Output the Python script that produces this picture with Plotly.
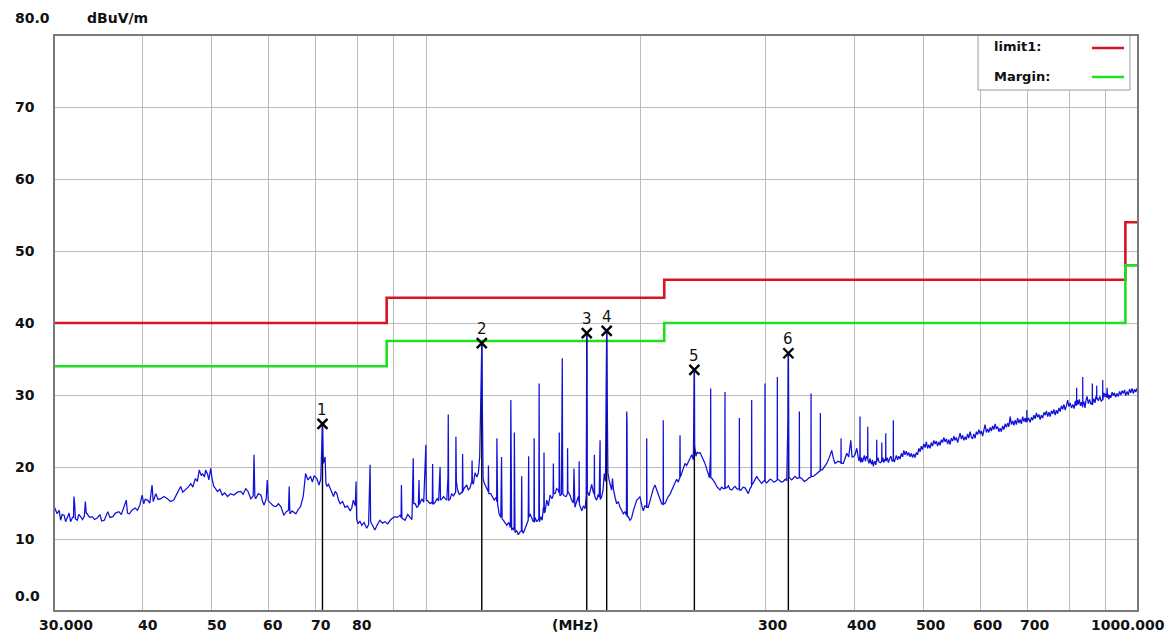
import math
import plotly.graph_objects as go

# ---- limit lines (MHz / dBuV/m) ----
limit_freq = [30, 88, 88, 216, 216, 960, 960, 1000]
limit_level = [40, 40, 43.5, 43.5, 46, 46, 54, 54]
margin_level = [34, 34, 37.5, 37.5, 40, 40, 48, 48]

# ---- peak markers ----
marker_no = ["1", "2", "3", "4", "5", "6"]
marker_freq = [71.5, 119.7, 168.1, 179.3, 238.1, 322.7]
marker_level = [26.0, 37.2, 38.6, 38.9, 33.5, 35.8]

# ---- scan trace as (MHz, dBuV/m) pairs, 30 - 72.5 MHz ----
scan_a = [(30.0, 14.6), (30.3, 13.5), (30.5, 14.0), (30.65, 12.6), (30.8, 13.4), (31.0, 13.3), (31.15, 12.4),
          (31.3, 12.9), (31.5, 13.6), (31.65, 12.4), (31.85, 13.0), (31.95, 13.0), (32.0, 15.9), (32.08, 14.8),
          (32.15, 12.8), (32.35, 12.6), (32.5, 13.4), (32.7, 13.1), (32.9, 12.7), (33.1, 13.2), (33.2, 15.2),
          (33.3, 13.6), (33.4, 13.5), (33.65, 13.0), (33.95, 13.1), (34.2, 12.7), (34.5, 12.9), (34.8, 13.4),
          (35.0, 12.5), (35.3, 12.6), (35.5, 13.2), (35.7, 13.8), (35.95, 13.0), (36.3, 13.1), (36.6, 13.6),
          (37.0, 13.8), (37.3, 13.4), (37.7, 14.7), (37.9, 15.4), (38.05, 13.6), (38.3, 13.5), (38.6, 14.0),
          (39.0, 14.3), (39.3, 14.0), (39.6, 14.7), (39.9, 16.1), (40.1, 14.9), (40.3, 15.5), (40.6, 15.4),
          (40.9, 15.0), (41.2, 17.5), (41.35, 15.2), (41.7, 16.3), (42.0, 15.5), (42.4, 15.6), (42.8, 15.9),
          (43.3, 15.6), (43.7, 15.2), (44.2, 15.4), (44.6, 16.2), (45.2, 17.3), (45.5, 16.5), (45.9, 16.8),
          (46.3, 17.2), (46.7, 17.7), (47.0, 17.2), (47.4, 18.4), (47.7, 18.0), (48.0, 19.6), (48.3, 18.8),
          (48.5, 19.1), (48.8, 18.6), (49.0, 19.6), (49.3, 19.0), (49.5, 18.2), (49.8, 19.8), (50.0, 18.5),
          (50.3, 17.3), (50.6, 17.0), (50.9, 16.6), (51.3, 16.9), (51.7, 16.1), (52.1, 16.4), (52.6, 15.9),
          (53.1, 16.3), (53.7, 16.1), (54.3, 16.5), (54.9, 16.6), (55.3, 16.2), (55.8, 17.0), (56.2, 16.6),
          (56.7, 15.6), (57.15, 16.0), (57.3, 21.7), (57.45, 15.9), (57.6, 15.6), (58.1, 16.3), (58.6, 16.1),
          (58.9, 15.2), (59.2, 14.7), (59.6, 15.6), (59.8, 18.2), (60.0, 15.3), (60.5, 14.9), (61.0, 14.6),
          (61.5, 14.5), (62.0, 14.9), (62.5, 14.5), (62.8, 14.0), (63.1, 13.3), (63.6, 13.8), (64.05, 14.0),
          (64.2, 17.3), (64.35, 13.5), (64.8, 13.9), (65.6, 13.5), (66.1, 14.1), (66.6, 14.5), (67.2, 16.0),
          (67.7, 19.1), (68.2, 18.2), (68.8, 18.7), (69.2, 17.9), (69.6, 18.8), (70.2, 18.4), (70.7, 17.5),
          (71.1, 18.3), (71.35, 23.5), (71.5, 26.0), (71.7, 20.5), (72.1, 21.4), (72.3, 17.8), (72.5, 17.3)]

# ---- 72.9 - 168.4 MHz ----
scan_b = [(72.9, 17.6), (73.3, 17.1), (73.7, 16.4), (74.1, 15.9), (74.5, 16.6), (74.9, 16.3), (75.3, 15.4),
          (75.7, 14.9), (76.3, 15.2), (76.9, 14.4), (77.5, 14.6), (78.2, 13.9), (78.6, 14.3), (79.0, 15.4),
          (79.5, 14.6), (79.7, 18.0), (79.85, 12.8), (80.2, 12.1), (80.7, 12.5), (81.2, 11.9), (81.8, 12.3),
          (82.5, 11.5), (83.0, 12.0), (83.4, 20.3), (83.55, 12.4), (84.0, 11.9), (84.7, 11.25), (85.4, 12.0),
          (86.1, 12.6), (86.8, 12.2), (87.5, 12.4), (88.3, 12.1), (89.0, 12.6), (89.7, 12.9), (90.4, 13.1),
          (91.1, 13.0), (91.9, 13.3), (92.2, 13.0), (92.3, 17.5), (92.45, 12.9), (92.7, 12.8), (93.4, 12.6),
          (94.2, 13.4), (94.8, 13.1), (95.5, 12.7), (95.9, 21.2), (96.05, 14.9), (96.5, 14.9), (97.0, 14.4),
          (97.5, 14.6), (97.7, 18.2), (97.85, 14.8), (98.1, 15.0), (98.6, 15.6), (99.2, 15.1), (99.9, 23.1),
          (100.05, 15.4), (100.5, 15.3), (101.2, 14.9), (101.8, 15.1), (102.0, 14.9), (102.1, 20.4),
          (102.25, 14.8), (102.9, 15.1), (103.6, 15.6), (104.1, 15.3), (104.6, 20.0), (104.75, 15.4),
          (105.3, 15.6), (105.8, 15.9), (106.3, 15.6), (106.9, 15.4), (107.3, 18.6), (107.4, 27.3),
          (107.55, 15.4), (108.0, 15.5), (108.6, 16.3), (109.2, 16.0), (110.0, 16.5), (110.1, 24.2),
          (110.25, 18.0), (110.7, 16.8), (111.3, 16.2), (112.2, 16.5), (112.4, 16.4), (112.5, 21.8),
          (112.65, 16.6), (113.0, 17.0), (114.0, 17.5), (114.6, 16.8), (115.2, 17.1), (115.9, 18.0),
          (116.0, 20.9), (116.15, 17.8), (116.5, 17.6), (117.1, 19.2), (117.8, 18.6), (118.4, 19.2),
          (118.9, 21.5), (119.2, 32.5), (119.5, 33.0), (119.7, 37.2), (119.9, 31.0), (120.2, 18.5),
          (120.6, 17.8), (121.3, 17.2), (121.9, 16.8), (122.2, 16.6), (122.3, 20.2), (122.45, 16.3),
          (123.2, 16.3), (123.9, 15.9), (124.6, 15.4), (125.4, 15.8), (125.6, 15.2), (125.7, 24.0),
          (125.85, 14.9), (126.0, 14.8), (126.6, 13.5), (127.3, 13.0), (127.6, 21.4), (127.85, 12.8),
          (128.4, 12.6), (129.1, 12.2), (129.8, 11.9), (130.6, 12.3), (131.3, 11.6), (131.5, 29.3),
          (131.7, 19.0), (131.85, 11.25), (132.5, 11.5), (132.9, 11.2), (133.0, 24.8), (133.15, 11.0),
          (133.3, 10.9), (134.0, 11.2), (134.7, 10.6), (135.5, 11.0), (136.05, 11.1), (136.2, 18.7),
          (136.35, 11.25), (136.9, 10.8), (137.6, 11.3), (138.4, 11.9), (139.1, 12.6), (139.3, 21.5),
          (139.45, 13.0), (139.9, 13.5), (140.6, 12.9), (141.4, 12.4), (141.7, 12.6), (141.8, 24.0),
          (141.95, 12.3), (142.2, 13.0), (143.0, 12.4), (143.95, 12.8), (144.1, 31.6), (144.25, 12.4),
          (144.9, 13.1), (145.5, 12.6), (146.1, 14.4), (146.3, 14.0), (146.4, 22.0), (146.55, 13.6),
          (146.9, 13.8), (147.7, 15.4), (148.5, 14.6), (149.3, 16.1), (150.2, 15.6), (150.75, 16.0),
          (150.9, 20.5), (151.05, 16.3), (151.7, 16.3), (152.5, 17.0), (153.3, 16.8), (153.7, 16.4),
          (153.8, 24.8), (153.95, 16.2), (154.1, 16.0), (154.9, 16.2), (155.15, 23.7), (155.3, 35.1),
          (155.45, 22.0), (155.6, 16.3), (156.2, 16.0), (157.3, 15.9), (157.9, 16.3), (158.0, 22.6),
          (158.15, 16.4), (158.4, 16.5), (159.2, 16.1), (160.1, 15.4), (161.0, 15.0), (161.3, 19.8),
          (161.45, 14.8), (161.8, 14.4), (162.7, 15.2), (163.6, 15.9), (163.9, 15.2), (164.0, 20.8),
          (164.15, 14.8), (164.5, 14.6), (165.4, 13.9), (166.3, 14.6), (167.2, 14.2), (167.8, 16.0),
          (168.1, 38.6), (168.4, 16.3)]

# ---- 168.8 - 402.6 MHz ----
scan_c = [(168.8, 16.4), (169.4, 16.0), (169.9, 16.8), (170.8, 17.6), (171.6, 16.6), (172.2, 16.2),
          (172.3, 21.7), (172.45, 16.0), (173.0, 15.6), (173.6, 15.4), (174.4, 16.2), (175.0, 15.8),
          (175.5, 23.7), (175.65, 15.5), (176.4, 15.9), (177.2, 16.8), (177.9, 19.1), (178.6, 18.0),
          (179.0, 31.2), (179.3, 38.9), (179.6, 30.0), (180.0, 19.2), (180.7, 18.2), (181.5, 17.5),
          (182.2, 16.8), (182.7, 18.4), (183.2, 17.0), (184.2, 15.8), (185.2, 14.9), (186.2, 15.2),
          (187.2, 14.4), (188.2, 14.0), (189.2, 13.5), (190.2, 13.8), (191.1, 13.3), (191.3, 27.7),
          (191.5, 26.3), (191.7, 13.1), (192.3, 13.1), (193.3, 12.6), (194.3, 12.9), (195.4, 13.9),
          (196.5, 14.6), (197.6, 15.4), (198.6, 15.6), (199.7, 15.9), (200.7, 14.8), (201.8, 13.9),
          (202.9, 14.6), (204.0, 14.4), (204.1, 24.0), (204.25, 14.4), (205.1, 14.4), (206.2, 15.3),
          (207.4, 16.3), (208.5, 17.0), (209.6, 17.5), (210.7, 16.9), (211.9, 16.3), (213.0, 15.6),
          (214.2, 14.9), (215.2, 14.8), (215.3, 26.5), (215.45, 14.9), (216.5, 14.9), (217.6, 15.4),
          (218.8, 15.9), (220.0, 16.2), (221.3, 16.8), (222.4, 17.4), (223.6, 17.8), (224.8, 18.3),
          (226.0, 17.9), (227.1, 18.5), (227.3, 24.4), (227.5, 18.6), (228.5, 19.1), (229.7, 19.8),
          (231.0, 20.5), (232.2, 20.2), (233.5, 20.7), (234.8, 21.2), (236.1, 21.7), (237.3, 21.0),
          (237.9, 27.2), (238.1, 33.5), (238.3, 23.0), (239.3, 21.5), (240.3, 22.1), (241.2, 21.9),
          (242.5, 22.0), (243.8, 21.4), (245.1, 21.0), (246.4, 20.5), (247.8, 19.6), (249.1, 18.7),
          (250.0, 18.5), (250.9, 22.0), (251.0, 30.9), (251.15, 18.5), (252.1, 18.4), (253.1, 18.2),
          (254.5, 17.8), (255.9, 17.3), (257.3, 17.0), (258.7, 16.8), (260.0, 17.2), (261.5, 17.0),
          (262.75, 17.0), (262.9, 30.4), (263.05, 17.1), (264.4, 17.1), (265.8, 17.4), (267.2, 16.9),
          (268.7, 16.8), (270.1, 17.1), (271.6, 17.3), (273.5, 16.9), (275.25, 17.0), (275.4, 26.8),
          (275.55, 16.8), (276.9, 16.8), (278.7, 17.2), (280.5, 17.1), (282.0, 16.7), (283.5, 16.3),
          (285.0, 17.0), (286.45, 17.3), (286.6, 29.3), (286.75, 17.5), (288.1, 17.8), (289.7, 18.3),
          (291.3, 18.7), (292.9, 18.3), (294.4, 18.0), (296.0, 17.7), (297.6, 18.0), (299.05, 18.2),
          (299.2, 31.6), (299.35, 18.0), (300.9, 17.8), (302.5, 18.1), (304.1, 18.3), (305.8, 18.2),
          (307.6, 17.9), (309.4, 18.0), (311.25, 18.2), (311.4, 32.5), (311.55, 18.3), (313.1, 18.2),
          (315.3, 17.9), (317.5, 18.0), (319.5, 18.3), (321.0, 18.1), (322.3, 26.8), (322.7, 35.8),
          (323.0, 26.8), (323.3, 18.6), (326.2, 18.2), (328.0, 18.5), (329.7, 18.7), (332.0, 18.4),
          (334.25, 18.5), (334.4, 27.7), (334.55, 18.6), (337.0, 18.4), (339.8, 18.0), (342.5, 18.2),
          (345.0, 18.5), (347.15, 18.6), (347.3, 30.2), (347.45, 18.7), (349.9, 18.7), (351.8, 18.9),
          (353.7, 19.1), (355.8, 19.4), (357.75, 19.5), (357.9, 27.5), (358.05, 19.6), (360.2, 19.6),
          (362.8, 20.0), (365.3, 20.5), (368.3, 21.3), (371.3, 22.3), (373.3, 21.2), (375.3, 20.5),
          (378.9, 20.8), (382.55, 20.6), (382.7, 24.0), (382.85, 20.5), (385.5, 20.5), (387.6, 21.2),
          (389.8, 21.9), (392.3, 21.4), (394.9, 23.7), (396.5, 21.4), (398.2, 21.4), (400.4, 21.7),
          (402.6, 22.6)]

# ---- 404.5 - 1000 MHz ----
scan_d = [(404.5, 21.4), (405.6, 20.8), (406.7, 21.6), (406.9, 27.0), (407.1, 21.2), (408.0, 20.6),
          (409.0, 21.3), (410.2, 20.7), (411.3, 21.0), (412.6, 21.6), (414.0, 20.8), (415.5, 21.5),
          (417.0, 21.2), (417.2, 25.6), (417.4, 21.0), (418.8, 20.5), (420.3, 21.2), (421.4, 20.6),
          (422.5, 20.4), (423.6, 21.0), (424.8, 20.1), (425.9, 20.6), (427.0, 20.8), (428.2, 20.3),
          (429.3, 21.0), (429.5, 23.8), (429.7, 20.8), (431.2, 21.3), (432.7, 20.7), (434.5, 20.6),
          (436.4, 20.8), (436.6, 23.4), (436.8, 20.7), (438.1, 21.3), (439.4, 20.6), (440.7, 21.1),
          (442.0, 20.9), (442.2, 24.7), (442.4, 20.8), (444.2, 21.3), (446.0, 20.6), (447.8, 21.2),
          (449.6, 21.5), (451.3, 20.8), (453.0, 21.0), (453.2, 26.5), (453.4, 21.0), (454.6, 20.7),
          (455.7, 21.0), (457.6, 21.6), (459.5, 21.0), (461.3, 21.5), (463.2, 21.1), (465.1, 21.9),
          (467.0, 21.4), (468.8, 22.3), (470.7, 21.7), (472.6, 22.2), (474.5, 21.6), (476.4, 22.0),
          (478.4, 21.4), (480.3, 21.9), (482.3, 21.3), (484.2, 21.8), (486.2, 21.3), (488.1, 22.0),
          (490.1, 21.7), (492.1, 22.6), (494.1, 22.1), (496.1, 22.9), (498.1, 22.4), (500.1, 23.2),
          (502.2, 22.7), (504.2, 23.5), (506.3, 22.6), (508.3, 23.1), (510.4, 22.6), (512.4, 23.4),
          (514.5, 22.9), (516.6, 23.7), (518.7, 23.2), (520.8, 23.6), (522.9, 22.9), (525.0, 23.5),
          (527.2, 23.0), (529.3, 23.8), (531.5, 23.4), (533.6, 24.1), (535.8, 23.5), (537.9, 23.9),
          (540.1, 23.2), (542.3, 23.8), (544.5, 23.1), (546.7, 24.0), (549.0, 23.6), (551.2, 24.3),
          (553.4, 23.7), (555.6, 24.1), (557.9, 23.4), (560.1, 24.2), (562.4, 24.7), (564.7, 23.9),
          (567.0, 24.4), (569.3, 23.7), (571.6, 24.2), (573.9, 23.8), (576.2, 24.6), (578.5, 24.0),
          (580.9, 24.9), (583.2, 24.2), (585.6, 23.9), (588.0, 24.6), (590.4, 24.0), (592.8, 24.9),
          (595.2, 24.5), (597.6, 25.2), (600.1, 24.6), (602.5, 25.0), (604.9, 24.3), (607.3, 25.1),
          (609.8, 25.9), (612.3, 24.8), (614.8, 25.3), (617.3, 24.8), (619.8, 25.5), (622.3, 25.0),
          (624.8, 25.7), (627.3, 25.2), (629.9, 26.0), (632.4, 25.3), (635.0, 25.6), (637.6, 24.9),
          (640.2, 25.4), (642.8, 24.9), (645.4, 25.7), (648.0, 25.2), (650.6, 26.0), (653.3, 25.5),
          (656.0, 26.1), (658.6, 25.6), (661.3, 27.0), (664.0, 25.9), (666.7, 26.4), (669.4, 25.8),
          (672.1, 26.5), (674.8, 25.9), (677.5, 26.8), (680.2, 26.1), (683.0, 26.6), (685.8, 26.0),
          (688.6, 27.0), (691.4, 26.3), (694.2, 26.8), (696.0, 26.2), (697.8, 26.9), (698.0, 27.9),
          (698.2, 26.3), (701.8, 26.8), (705.5, 26.2), (708.4, 26.9), (711.3, 26.5), (714.1, 27.2),
          (717.0, 26.7), (719.9, 27.5), (722.8, 26.9), (725.7, 27.3), (728.7, 26.6), (731.6, 27.2),
          (734.6, 26.8), (737.6, 27.6), (740.6, 27.2), (743.6, 27.8), (746.6, 27.0), (749.6, 27.6),
          (752.7, 27.0), (755.7, 27.8), (758.8, 27.4), (761.8, 28.0), (764.9, 27.2), (768.0, 27.9),
          (771.1, 27.4), (774.2, 28.2), (777.4, 27.7), (780.5, 28.5), (783.7, 28.0), (786.9, 28.7),
          (790.1, 27.9), (793.3, 28.5), (796.5, 29.3), (799.7, 28.4), (803.0, 28.9), (806.5, 28.2),
          (810.0, 28.7), (813.3, 28.1), (816.6, 29.2), (818.5, 28.5), (819.8, 28.9), (820.0, 31.0),
          (820.2, 28.6), (822.4, 29.3), (824.6, 28.7), (827.3, 29.4), (830.0, 28.5), (833.0, 29.0),
          (836.1, 28.3), (836.3, 32.5), (836.5, 28.6), (839.5, 29.1), (842.5, 28.2), (845.2, 29.3),
          (848.0, 29.8), (851.5, 28.8), (855.0, 29.4), (858.7, 28.7), (862.5, 29.0), (862.7, 31.6),
          (862.9, 28.6), (866.6, 29.5), (870.3, 28.9), (872.5, 29.8), (874.8, 29.4), (875.0, 31.3),
          (875.2, 29.7), (879.6, 29.2), (884.0, 29.8), (888.0, 29.1), (892.0, 29.4), (892.2, 32.1),
          (892.4, 29.3), (895.6, 30.3), (898.9, 29.7), (901.5, 30.2), (904.0, 29.7), (905.0, 31.0),
          (906.0, 29.6), (908.0, 30.1), (910.0, 29.4), (913.0, 30.0), (916.0, 29.6), (919.7, 30.4),
          (923.4, 29.9), (926.7, 30.3), (930.0, 29.7), (934.2, 30.2), (938.4, 29.8), (942.2, 30.5),
          (946.0, 30.0), (949.8, 30.6), (953.7, 30.2), (957.3, 30.7), (961.0, 29.9), (965.1, 30.5),
          (969.3, 30.0), (973.1, 30.8), (977.0, 30.3), (981.0, 30.9), (985.1, 30.2), (989.0, 30.8),
          (993.0, 30.4), (996.5, 30.9), (1000.0, 30.5)]

# ---- axis labels ----
xlabel_freq = [30, 40, 50, 60, 70, 80, 300, 400, 500, 600, 700, 1000]
xlabel_text = ["30.000", "40", "50", "60", "70", "80", "300", "400", "500", "600", "700", "1000.000"]
xgrid_freq = [40, 50, 60, 70, 80, 90, 100, 200, 300, 400, 500, 600, 700, 800, 900]
ylabel_level = [10, 20, 30, 40, 50, 60, 70]

scan = scan_a + scan_b + scan_c + scan_d
scan_freq = [p[0] for p in scan]
scan_level = [p[1] for p in scan]

LABEL_FONT = dict(family="DejaVu Sans", size=14, color="#111111")

fig = go.Figure()

# limit and margin step lines
fig.add_trace(go.Scatter(x=limit_freq, y=limit_level, mode="lines",
                         line=dict(color="#d81424", width=2.6), hoverinfo="skip"))
fig.add_trace(go.Scatter(x=limit_freq, y=margin_level, mode="lines",
                         line=dict(color="#1fe01f", width=2.6), hoverinfo="skip"))

# vertical marker lines from the floor to each peak
mx, my = [], []
for f, v in zip(marker_freq, marker_level):
    mx += [f, f, None]
    my += [0, v, None]
fig.add_trace(go.Scatter(x=mx, y=my, mode="lines", line=dict(color="#000000", width=1.4),
                         hoverinfo="skip"))

# measured spectrum
fig.add_trace(go.Scatter(x=scan_freq, y=scan_level, mode="lines",
                         line=dict(color="#1010d8", width=1.25), hoverinfo="skip"))

# peak markers
fig.add_trace(go.Scatter(x=marker_freq, y=marker_level, mode="markers",
                         marker=dict(symbol="x-thin-open", size=10, color="#000000",
                                     line=dict(color="#000000", width=2.4)),
                         hoverinfo="skip"))

annotations = []
for no, f, v in zip(marker_no, marker_freq, marker_level):
    annotations.append(dict(x=math.log10(f), y=v, xref="x", yref="y", text=no, showarrow=False,
                            yshift=14, font=dict(family="DejaVu Sans", size=15, color="#111111")))

# x tick labels sit just right of their grid lines
for i, (f, t) in enumerate(zip(xlabel_freq, xlabel_text)):
    if i == 0:
        shift = 12
    elif i == len(xlabel_freq) - 1:
        shift = -10
    elif f < 100:
        shift = 5
    else:
        shift = 7
    annotations.append(dict(x=math.log10(f), y=-0.024, xref="x", yref="paper", text="<b>%s</b>" % t,
                            showarrow=False, xshift=shift, yanchor="middle", font=LABEL_FONT))
annotations.append(dict(x=0.4815, y=-0.024, xref="paper", yref="paper", text="<b>(MHz)</b>",
                        showarrow=False, yanchor="middle", font=LABEL_FONT))

# y tick labels, left aligned at the page edge
for v in ylabel_level:
    annotations.append(dict(x=-0.0378, y=v, xref="paper", yref="y", text="<b>%d</b>" % v,
                            showarrow=False, xanchor="left", yanchor="middle", font=LABEL_FONT))
annotations.append(dict(x=-0.0378, y=0.026, xref="paper", yref="paper", text="<b>0.0</b>",
                        showarrow=False, xanchor="left", yanchor="middle", font=LABEL_FONT))
annotations.append(dict(x=-0.0378, y=1.0295, xref="paper", yref="paper", text="<b>80.0</b>",
                        showarrow=False, xanchor="left", yanchor="middle", font=LABEL_FONT))
annotations.append(dict(x=0.0286, y=1.0295, xref="paper", yref="paper", text="<b>dBuV/m</b>",
                        showarrow=False, xanchor="left", yanchor="middle", font=LABEL_FONT))

# legend box
LEGEND_FONT = dict(family="DejaVu Sans", size=13, color="#111111")
annotations.append(dict(x=0.8653, y=0.9792, xref="paper", yref="paper", text="<b>limit1:</b>",
                        showarrow=False, xanchor="left", yanchor="middle", font=LEGEND_FONT))
annotations.append(dict(x=0.8653, y=0.9271, xref="paper", yref="paper", text="<b>Margin:</b>",
                        showarrow=False, xanchor="left", yanchor="middle", font=LEGEND_FONT))

shapes = [
    dict(type="rect", xref="paper", yref="paper", x0=0.8524, x1=0.9926, y0=0.9045, y1=1.0,
         fillcolor="#ffffff", line=dict(color="#9a9a9a", width=1), layer="above"),
    dict(type="line", xref="paper", yref="paper", x0=0.9576, x1=0.9871, y0=0.9774, y1=0.9774,
         line=dict(color="#d81424", width=2.6), layer="above"),
    dict(type="line", xref="paper", yref="paper", x0=0.9576, x1=0.9871, y0=0.9271, y1=0.9271,
         line=dict(color="#1fe01f", width=2.6), layer="above"),
    dict(type="rect", xref="paper", yref="paper", x0=0, x1=1, y0=0, y1=1,
         line=dict(color="#7a7a7a", width=2), layer="above"),
]

fig.update_layout(
    width=1176, height=636,
    margin=dict(l=54, r=38, t=35, b=25),
    paper_bgcolor="#ffffff", plot_bgcolor="#ffffff",
    showlegend=False,
    annotations=annotations,
    shapes=shapes,
    xaxis=dict(type="log", range=[math.log10(30), math.log10(1000)], tickvals=xgrid_freq,
               showticklabels=False, ticks="", showgrid=True, gridcolor="#bcbcbc", gridwidth=1,
               zeroline=False, showline=False, fixedrange=True),
    yaxis=dict(range=[0, 80], tickvals=ylabel_level, showticklabels=False, ticks="",
               showgrid=True, gridcolor="#bcbcbc", gridwidth=1, zeroline=False, showline=False,
               fixedrange=True),
)

fig.write_html("out.html", config={"displayModeBar": False})
